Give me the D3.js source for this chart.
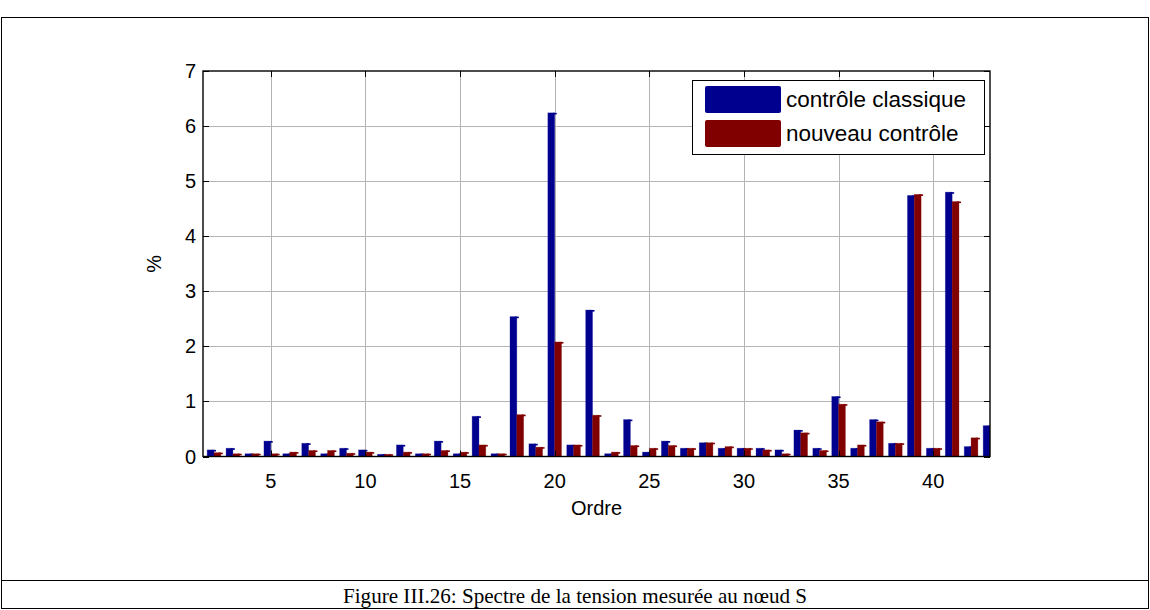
<!DOCTYPE html>
<html>
<head>
<meta charset="utf-8">
<script src="https://cdn.jsdelivr.net/npm/d3@7"></script>
<style>
  html, body { margin: 0; padding: 0; background: #fff; }
  svg { display: block; }
</style>
</head>
<body>
<svg id="chart" width="1150" height="610"></svg>
<script>
// Harmonic orders and spectrum amplitudes (% of fundamental)
const orders = d3.range(2, 44);
const classique = [
  0.12, 0.15, 0.05, 0.28, 0.05, 0.24, 0.05, 0.15, 0.12, 0.04,
  0.21, 0.05, 0.28, 0.05, 0.73, 0.05, 2.54, 0.23, 6.24, 0.21,
  2.66, 0.05, 0.67, 0.08, 0.28, 0.15, 0.25, 0.15, 0.15, 0.15,
  0.12, 0.48, 0.15, 1.09, 0.15, 0.67, 0.24, 4.74, 0.15, 4.80,
  0.18, 0.56
];
const nouveau = [
  0.07, 0.05, 0.05, 0.05, 0.08, 0.11, 0.11, 0.06, 0.08, 0.04,
  0.08, 0.05, 0.11, 0.08, 0.21, 0.05, 0.76, 0.17, 2.08, 0.21,
  0.75, 0.08, 0.20, 0.15, 0.20, 0.15, 0.25, 0.18, 0.15, 0.12,
  0.05, 0.43, 0.11, 0.95, 0.21, 0.63, 0.24, 4.76, 0.15, 4.63,
  0.34, 0.30
];
const seriesNames = ["contrôle classique", "nouveau contrôle"];
const seriesColors = ["#00008f", "#800000"];
const xTicks = [5, 10, 15, 20, 25, 30, 35, 40];
const yTicks = [0, 1, 2, 3, 4, 5, 6, 7];
const caption = "Figure III.26: Spectre de la tension mesurée au nœud S";

const svg = d3.select("#chart");
const font = "'Liberation Sans', Arial, sans-serif";
const axisFont = 20;

// Outer figure frame with caption row
svg.append("rect").attr("x", 1.5).attr("y", 17.5).attr("width", 1147).attr("height", 591)
  .attr("fill", "none").attr("stroke", "#000").attr("stroke-width", 1);
svg.append("line").attr("x1", 1.5).attr("x2", 1148.5).attr("y1", 580.5).attr("y2", 580.5)
  .attr("stroke", "#000").attr("stroke-width", 1);
svg.append("text").attr("x", 575).attr("y", 603)
  .attr("text-anchor", "middle")
  .attr("font-family", "'Liberation Serif', 'DejaVu Serif', serif")
  .attr("font-size", 22).attr("fill", "#000")
  .attr("textLength", 464).attr("lengthAdjust", "spacingAndGlyphs")
  .text(caption);

// Plot area
const L = 203, R = 990, T = 71, B = 456.5;
const x = d3.scaleLinear().domain([1.42, 43]).range([L, R]);
const y = d3.scaleLinear().domain([0, 7]).range([B, T]);

// Grid
const grid = svg.append("g");
grid.selectAll(".gx").data(xTicks).join("line")
  .attr("x1", d => Math.round(x(d)) + 0.5).attr("x2", d => Math.round(x(d)) + 0.5)
  .attr("y1", T).attr("y2", B).attr("stroke", "#b4b4b4").attr("stroke-width", 1);
grid.selectAll(".gy").data(yTicks.slice(1, -1)).join("line")
  .attr("x1", L).attr("x2", R)
  .attr("y1", d => Math.round(y(d)) + 0.5).attr("y2", d => Math.round(y(d)) + 0.5)
  .attr("stroke", "#b4b4b4").attr("stroke-width", 1);

// Bars
svg.append("defs").append("clipPath").attr("id", "plotClip")
  .append("rect").attr("x", L).attr("y", T).attr("width", R - L).attr("height", B - T);
const bw = 0.36;
const barsG = svg.append("g").attr("clip-path", "url(#plotClip)");
[classique, nouveau].forEach((vals, si) => {
  const g = barsG.append("g");
  const off = si === 0 ? -bw : 0;
  const data = orders.map((o, i) => ({ o, v: vals[i] }));
  g.selectAll("rect.bar").data(data).join("rect")
    .attr("class", "bar")
    .attr("x", d => x(d.o + off))
    .attr("width", x(bw) - x(0))
    .attr("y", d => y(d.v))
    .attr("height", d => y(0) - y(d.v))
    .attr("fill", seriesColors[si])
    .attr("stroke", seriesColors[si]).attr("stroke-opacity", 0.35).attr("stroke-width", 0.8);
  // small cap at the top right of each bar
  g.selectAll("rect.cap").data(data).join("rect")
    .attr("class", "cap")
    .attr("x", d => x(d.o + off + bw) - 2)
    .attr("width", 4)
    .attr("y", d => y(d.v))
    .attr("height", 1.6)
    .attr("fill", seriesColors[si]);
});

// Axes box
const box = svg.append("g");
box.append("rect").attr("x", L).attr("y", T).attr("width", R - L).attr("height", B - T)
  .attr("fill", "none").attr("stroke", "#000").attr("stroke-width", 1.4);

// Inward ticks on all four sides
const tickLen = 6;
xTicks.forEach(t => {
  const px = Math.round(x(t)) + 0.5;
  box.append("line").attr("x1", px).attr("x2", px).attr("y1", B).attr("y2", B - tickLen).attr("stroke", "#000");
  box.append("line").attr("x1", px).attr("x2", px).attr("y1", T).attr("y2", T + tickLen).attr("stroke", "#000");
});
yTicks.forEach(t => {
  const py = Math.round(y(t)) + 0.5;
  box.append("line").attr("x1", L).attr("x2", L + tickLen).attr("y1", py).attr("y2", py).attr("stroke", "#000");
  box.append("line").attr("x1", R).attr("x2", R - tickLen).attr("y1", py).attr("y2", py).attr("stroke", "#000");
});

// Tick labels
svg.append("g").selectAll("text").data(xTicks).join("text")
  .attr("x", d => x(d)).attr("y", B + 31)
  .attr("text-anchor", "middle").attr("font-family", font).attr("font-size", axisFont)
  .text(d => d);
svg.append("g").selectAll("text").data(yTicks).join("text")
  .attr("x", L - 7).attr("y", d => y(d) + 7)
  .attr("text-anchor", "end").attr("font-family", font).attr("font-size", axisFont)
  .text(d => d);

// Axis titles
svg.append("text").attr("x", (L + R) / 2).attr("y", B + 58)
  .attr("text-anchor", "middle").attr("font-family", font).attr("font-size", axisFont)
  .text("Ordre");
svg.append("text")
  .attr("transform", `translate(161, ${(T + B) / 2}) rotate(-90)`)
  .attr("text-anchor", "middle").attr("font-family", font).attr("font-size", axisFont)
  .text("%");

// Legend
const lg = svg.append("g");
lg.append("rect").attr("x", 692.5).attr("y", 80.5).attr("width", 292).attr("height", 74)
  .attr("fill", "#fff").attr("stroke", "#000").attr("stroke-width", 1);
seriesNames.forEach((name, i) => {
  const yy = 86 + i * 34;
  lg.append("rect").attr("x", 705).attr("y", yy).attr("width", 76).attr("height", 27)
    .attr("rx", 2).attr("fill", seriesColors[i]);
  lg.append("text").attr("x", 786).attr("y", yy + 21)
    .attr("font-family", font).attr("font-size", 22.5).text(name);
});
</script>
</body>
</html>
